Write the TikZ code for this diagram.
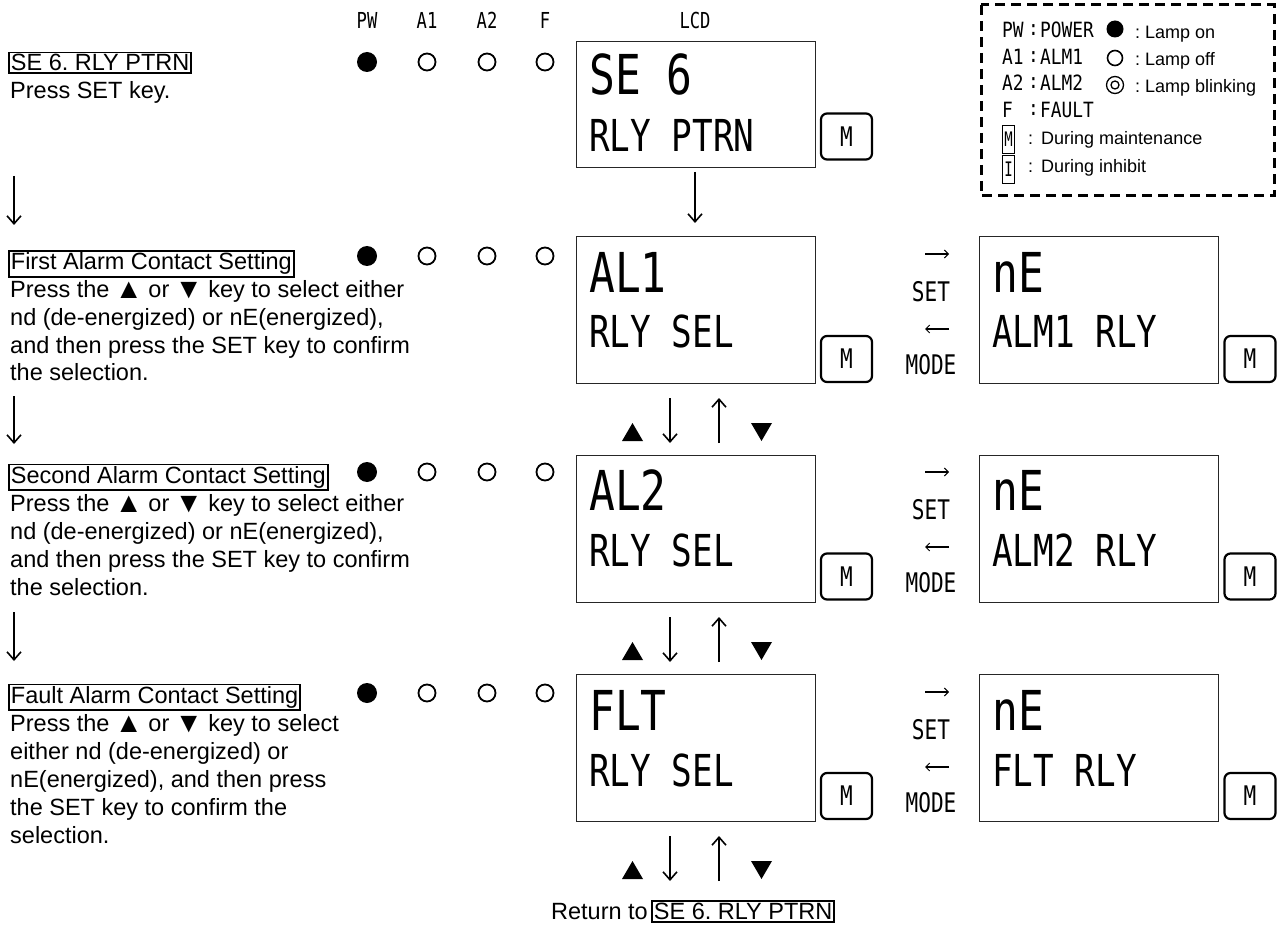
\documentclass[tikz,border=0pt]{standalone}
\usepackage{fontspec}
\setmainfont{Liberation Sans}
\newfontfamily\lcdfont{DejaVu Sans Mono}
\usetikzlibrary{arrows.meta}
\frenchspacing
\newcommand\nar[3][0.78]{{\fontsize{#2}{#2}\selectfont\lcdfont\scalebox{#1}[1]{#3}}}
\newcommand\tup{\kern-1pt\raisebox{-0.5pt}{\scalebox{1.2}{▲}}\kern-1pt}
\newcommand\tdn{\kern-1pt\raisebox{-0.5pt}{\scalebox{1.2}{▼}}\kern-1pt}
\begin{document}
\begin{tikzpicture}[x=1pt,y=-1pt,
  body/.style={font=\fontsize{23.5}{27.5}\selectfont, inner sep=0pt, anchor=base west},
  ttl/.style={body, draw, line width=1.8pt, inner xsep=2pt, inner ysep=2pt},
  hdr/.style={inner sep=0pt, anchor=center},
  lcdbox/.style={draw=black!85, line width=1.1pt, minimum width=239pt, minimum height=147pt, inner sep=0pt, anchor=north west},
  lcdbig/.style={inner sep=0pt, anchor=base west, font=\fontsize{55}{55}\selectfont\lcdfont},
  lcdsmall/.style={inner sep=0pt, anchor=base west, font=\fontsize{44}{44}\selectfont\lcdfont},
  mkey/.style={draw, line width=2.2pt, rounded corners=6pt, minimum width=51pt, minimum height=46pt, inner sep=0pt},
  lampon/.style={circle, fill=black, minimum size=20pt, inner sep=0pt},
  lampoff/.style={circle, draw, line width=1.8pt, minimum size=17pt, inner sep=0pt},
  lampblink/.style={circle, draw, line width=1.3pt, minimum size=17pt, inner sep=0pt,
     path picture={\draw[line width=1.3pt] (path picture bounding box.center) circle (4pt);}},
  garrow/.style={line width=1.9pt, -{Straight Barb[length=8pt,width=14pt,line width=1.6pt]}},
  sarrow/.style={line width=1.1pt, -{Straight Barb[length=4pt,width=8pt,line width=1pt]}},
  legtxt/.style={inner sep=0pt, anchor=west, font=\fontsize{18}{18}\selectfont},
]
\useasboundingbox (0,0) rectangle (1282,925);

% ---------- headers ----------
\node[hdr] (hpw) at (367,20) {\nar{22}{PW}};
\node[hdr] (ha1) at (427,20) {\nar{22}{A1}};
\node[hdr] (ha2) at (487,20) {\nar{22}{A2}};
\node[hdr] (hf)  at (545,20) {\nar{22}{F}};
\node[hdr] (hlcd) at (695,20) {\nar{22}{LCD}};

% ---------- left texts ----------
\node[ttl] (t1) at (8,71) {SE 6. RLY PTRN};
\node[body] (d1a) at (10,98.5) {Press SET key.};

\node[ttl] (t2) at (8,270) {First Alarm Contact Setting};
\node[body] (d2a) at (10,298) {Press the \tup{} or \tdn{} key to select either};
\node[body] (d2b) at (10,325.5) {nd (de-energized) or nE(energized),};
\node[body] (d2c) at (10,353) {and then press the SET key to confirm};
\node[body] (d2d) at (10,380.5) {the selection.};

\node[ttl] (t3) at (8,483.5) {Second Alarm Contact Setting};
\node[body] (d3a) at (10,511.5) {Press the \tup{} or \tdn{} key to select either};
\node[body] (d3b) at (10,539.5) {nd (de-energized) or nE(energized),};
\node[body] (d3c) at (10,567.5) {and then press the SET key to confirm};
\node[body] (d3d) at (10,595.5) {the selection.};

\node[ttl] (t4) at (8,703.5) {Fault Alarm Contact Setting};
\node[body] (d4a) at (10,731.5) {Press the \tup{} or \tdn{} key to select};
\node[body] (d4b) at (10,759.5) {either nd (de-energized) or};
\node[body] (d4c) at (10,787.5) {nE(energized), and then press};
\node[body] (d4d) at (10,815.5) {the SET key to confirm the};
\node[body] (d4e) at (10,843.5) {selection.};

% left arrows
\coordinate (la1s) at (14,176); \coordinate (la1e) at (14,225);
\coordinate (la2s) at (14,396); \coordinate (la2e) at (14,444);
\coordinate (la3s) at (14,612); \coordinate (la3e) at (14,661);
\draw[garrow] (la1s) -- (la1e);
\draw[garrow] (la2s) -- (la2e);
\draw[garrow] (la3s) -- (la3e);

% ---------- lamps ----------
\foreach \r/\y in {1/62,2/256,3/472,4/693}{
  \node[lampon]  (pw\r) at (367,\y) {};
  \node[lampoff] (aa\r) at (427,\y) {};
  \node[lampoff] (ab\r) at (487,\y) {};
  \node[lampoff] (ff\r) at (545,\y) {};
}

% ---------- LCD boxes (left) ----------
\node[lcdbox, minimum height=126pt] (L1) at (576,41) {};
\node[lcdbox] (L2) at (576,236) {};
\node[lcdbox] (L3) at (576,455) {};
\node[lcdbox] (L4) at (576,674) {};

\node[lcdbig]   (L1a) at (589,95)  {\scalebox{0.78}[1]{SE 6}};
\node[lcdsmall] (L1b) at (589,152) {\scalebox{0.78}[1]{RLY PTRN}};
\node[lcdbig]   (L2a) at (589,292) {\scalebox{0.78}[1]{AL1}};
\node[lcdsmall] (L2b) at (589,347) {\scalebox{0.78}[1]{RLY SEL}};
\node[lcdbig]   (L3a) at (589,510) {\scalebox{0.78}[1]{AL2}};
\node[lcdsmall] (L3b) at (589,566) {\scalebox{0.78}[1]{RLY SEL}};
\node[lcdbig]   (L4a) at (589,730) {\scalebox{0.78}[1]{FLT}};
\node[lcdsmall] (L4b) at (589,786) {\scalebox{0.78}[1]{RLY SEL}};

% ---------- LCD boxes (right) ----------
\node[lcdbox] (R2) at (979,236) {};
\node[lcdbox] (R3) at (979,455) {};
\node[lcdbox] (R4) at (979,674) {};
\node[lcdbig]   (R2a) at (992,292) {\scalebox{0.78}[1]{nE}};
\node[lcdsmall] (R2b) at (992,347) {\scalebox{0.78}[1]{ALM1 RLY}};
\node[lcdbig]   (R3a) at (992,510) {\scalebox{0.78}[1]{nE}};
\node[lcdsmall] (R3b) at (992,566) {\scalebox{0.78}[1]{ALM2 RLY}};
\node[lcdbig]   (R4a) at (992,730) {\scalebox{0.78}[1]{nE}};
\node[lcdsmall] (R4b) at (992,786) {\scalebox{0.78}[1]{FLT RLY}};

% ---------- M keys ----------
\node[mkey] (M1) at (846.5,136.5) {\nar{27}{M}};
\node[mkey] (M2) at (846.5,359) {\nar{27}{M}};
\node[mkey] (M3) at (846.5,576.5) {\nar{27}{M}};
\node[mkey] (M4) at (846.5,796) {\nar{27}{M}};
\node[mkey] (MR2) at (1250,359) {\nar{27}{M}};
\node[mkey] (MR3) at (1250,576.5) {\nar{27}{M}};
\node[mkey] (MR4) at (1250,796) {\nar{27}{M}};

% ---------- SET / MODE ----------
\foreach \r/\y in {2/254,3/472,4/692}{
  \coordinate (sa\r s) at (925,\y); \coordinate (sa\r e) at (949,\y);
  \draw[sarrow] (sa\r s) -- (sa\r e);
  \node[hdr] (set\r) at (931,\y+38) {\nar{27}{SET}};
  \coordinate (ma\r s) at (949,\y+75); \coordinate (ma\r e) at (925,\y+75);
  \draw[sarrow] (ma\r s) -- (ma\r e);
  \node[hdr] (mode\r) at (931,\y+111) {\nar{27}{MODE}};
}

% ---------- vertical arrows between LCDs ----------
\coordinate (ca0s) at (695,172); \coordinate (ca0e) at (695,223);
\draw[garrow] (ca0s) -- (ca0e);
\foreach \r/\y in {a/398,b/617,c/836}{
  \coordinate (dn\r s) at (670,\y); \coordinate (dn\r e) at (670,\y+45);
  \coordinate (up\r s) at (719,\y+45); \coordinate (up\r e) at (719,\y);
  \draw[garrow] (dn\r s) -- (dn\r e);
  \draw[garrow] (up\r s) -- (up\r e);
  \fill (622,\y+43) -- (643,\y+43) -- (632.5,\y+25) -- cycle;
  \fill (751,\y+25) -- (772,\y+25) -- (761.5,\y+43) -- cycle;
}

% ---------- bottom ----------
\node[body, anchor=base east] (ret) at (648,919.5) {Return to};
\node[ttl] (t5) at (651,919.5) {SE 6. RLY PTRN};

% ---------- legend ----------
\draw[line width=3pt, dash pattern=on 10pt off 6pt] (981,5) rectangle (1274,196);
\node[inner sep=0pt, anchor=west] (lg1) at (1002,30) {\nar[0.85]{21}{PW}};
\node[inner sep=0pt, anchor=west] (lg1c) at (1028,30) {\nar[0.85]{21}{:}};
\node[inner sep=0pt, anchor=west] (lg1t) at (1040,30) {\nar[0.85]{21}{POWER}};
\node[inner sep=0pt, anchor=west] (lg2) at (1002,57) {\nar[0.85]{21}{A1}};
\node[inner sep=0pt, anchor=west] (lg2c) at (1028,57) {\nar[0.85]{21}{:}};
\node[inner sep=0pt, anchor=west] (lg2t) at (1040,57) {\nar[0.85]{21}{ALM1}};
\node[inner sep=0pt, anchor=west] (lg3) at (1002,83) {\nar[0.85]{21}{A2}};
\node[inner sep=0pt, anchor=west] (lg3c) at (1028,83) {\nar[0.85]{21}{:}};
\node[inner sep=0pt, anchor=west] (lg3t) at (1040,83) {\nar[0.85]{21}{ALM2}};
\node[inner sep=0pt, anchor=west] (lg4) at (1002,110) {\nar[0.85]{21}{F}};
\node[inner sep=0pt, anchor=west] (lg4c) at (1028,110) {\nar[0.85]{21}{:}};
\node[inner sep=0pt, anchor=west] (lg4t) at (1040,110) {\nar[0.85]{21}{FAULT}};

\node[lampon, minimum size=17pt] (lgon) at (1115,29) {};
\node[lampoff, minimum size=15pt, line width=1.6pt] (lgoff) at (1115,58) {};
\node[lampblink] (lgbl) at (1115,85) {};
\node[legtxt] (lgont) at (1135,34) {: Lamp on};
\node[legtxt] (lgofft) at (1135,61) {: Lamp off};
\node[legtxt] (lgblt) at (1135,88) {: Lamp blinking};

\node[draw, line width=0.8pt, minimum width=12pt, minimum height=28pt, inner sep=0pt] (lgm) at (1008.5,139.5) {\nar[0.7]{20}{M}};
\node[draw, line width=0.8pt, minimum width=12pt, minimum height=28pt, inner sep=0pt] (lgi) at (1008.5,169) {\nar[0.7]{20}{I}};
\node[legtxt] (lgmt) at (1028,140) {:\, During maintenance};
\node[legtxt] (lgit) at (1028,168) {:\, During inhibit};
\end{tikzpicture}
\end{document}
